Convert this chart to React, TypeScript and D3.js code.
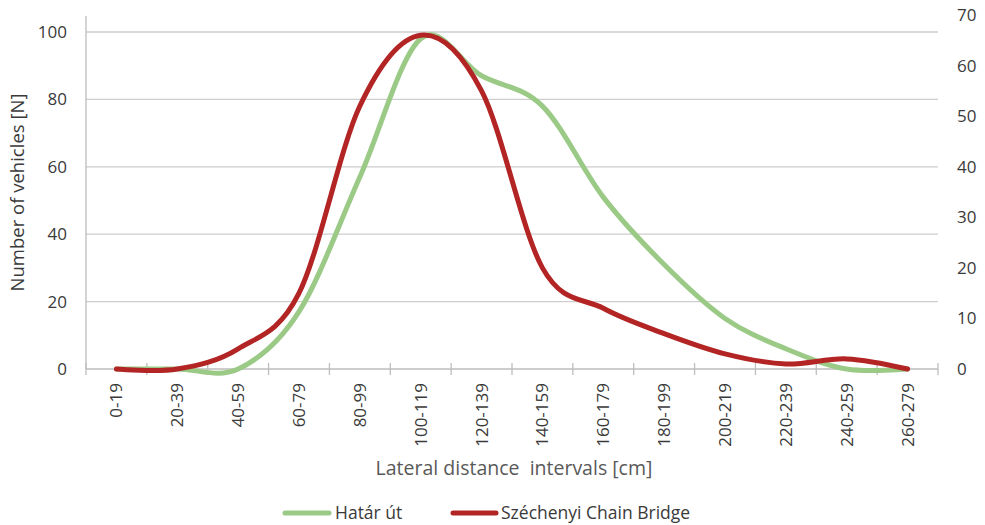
import React from 'react';
import * as d3 from 'd3';

const categories = ['0-19', '20-39', '40-59', '60-79', '80-99', '100-119', '120-139', '140-159', '160-179', '180-199', '200-219', '220-239', '240-259', '260-279'];
const hatarUt = [0, 0, 0, 17, 57, 98, 87, 78, 51, 31, 15, 6, 0, 0];
const chainBridge = [0, 0, 4, 15, 52, 66, 55, 20, 12, 7, 3, 1, 2, 0];
const leftTicks = [0, 20, 40, 60, 80, 100];
const rightTicks = [0, 10, 20, 30, 40, 50, 60, 70];

const W = 985;
const H = 525;
const font = "'Open Sans', sans-serif";
const textColor = '#3a3a3a';
const gridColor = '#cdcdcd';
const green = '#9bca87';
const red = '#b32424';

export default function App() {
  const left = 86;
  const right = 938;
  const bottom = 369;

  const x = d3.scaleBand().domain(categories).range([left, right]).padding(0);
  const yL = d3.scaleLinear().domain([0, 100]).range([bottom, 32]);
  const yR = d3.scaleLinear().domain([0, 70]).range([bottom, 15]);
  const cx = (c: string) => (x(c) || 0) + x.bandwidth() / 2;

  const lineL = d3.line<number>()
    .x((d, i) => cx(categories[i]))
    .y(d => yL(d))
    .curve(d3.curveCardinal);
  const lineR = d3.line<number>()
    .x((d, i) => cx(categories[i]))
    .y(d => yR(d))
    .curve(d3.curveCardinal);

  const boundaries = categories.map(c => x(c) || 0).concat([right]);

  return (
    <svg width={W} height={H} style={{ position: 'absolute', left: 0, top: 0, background: '#fff' }}>
      {/* gridlines */}
      {leftTicks.filter(t => t > 0).map(t => (
        <line key={t} x1={left} x2={right} y1={yL(t)} y2={yL(t)} stroke={gridColor} strokeWidth={1.3} />
      ))}
      {/* left axis */}
      <line x1={left} x2={left} y1={yR(70) + 1} y2={bottom} stroke="#bdbdbd" strokeWidth={1.3} />
      {leftTicks.map(t => (
        <text key={t} x={67} y={yL(t)} dy="0.35em" textAnchor="end" fontFamily={font} fontSize={17} fill={textColor}>{t}</text>
      ))}
      <text transform={`translate(24,${(bottom + 16) / 2}) rotate(-90)`} textAnchor="middle" fontFamily={font} fontSize={18.5} fill={textColor}>Number of vehicles [N]</text>
      {/* right axis labels */}
      {rightTicks.map(t => (
        <text key={t} x={957} y={yR(t)} dy="0.35em" textAnchor="start" fontFamily={font} fontSize={17} fill={textColor}>{t}</text>
      ))}
      {/* x axis */}
      <line x1={left} x2={right} y1={bottom} y2={bottom} stroke="#bdbdbd" strokeWidth={1.3} />
      {boundaries.map((b, i) => (
        <line key={i} x1={b} x2={b} y1={bottom - 6} y2={bottom + 6} stroke="#bdbdbd" strokeWidth={1.3} />
      ))}
      {categories.map(c => (
        <text key={c} transform={`translate(${cx(c)},383) rotate(-90)`} dy="0.35em" textAnchor="end" fontFamily={font} fontSize={17} fill={textColor}>{c}</text>
      ))}
      <text x={514} y={475} textAnchor="middle" fontFamily={font} fontSize={19.5} fill="#595959" style={{ whiteSpace: 'pre' }}>Lateral distance  intervals [cm]</text>
      {/* series */}
      <path d={lineL(hatarUt) || ''} fill="none" stroke={green} strokeWidth={5} strokeLinecap="round" strokeLinejoin="round" />
      <path d={lineR(chainBridge) || ''} fill="none" stroke={red} strokeWidth={5} strokeLinecap="round" strokeLinejoin="round" />
      {/* legend */}
      <line x1={285} x2={329} y1={513} y2={513} stroke={green} strokeWidth={5} strokeLinecap="round" />
      <text x={335} y={519} fontFamily={font} fontSize={17.5} fill={textColor}>Határ út</text>
      <line x1={453} x2={496} y1={513} y2={513} stroke={red} strokeWidth={5} strokeLinecap="round" />
      <text x={501} y={519} fontFamily={font} fontSize={17.5} fill={textColor}>Széchenyi Chain Bridge</text>
    </svg>
  );
}
